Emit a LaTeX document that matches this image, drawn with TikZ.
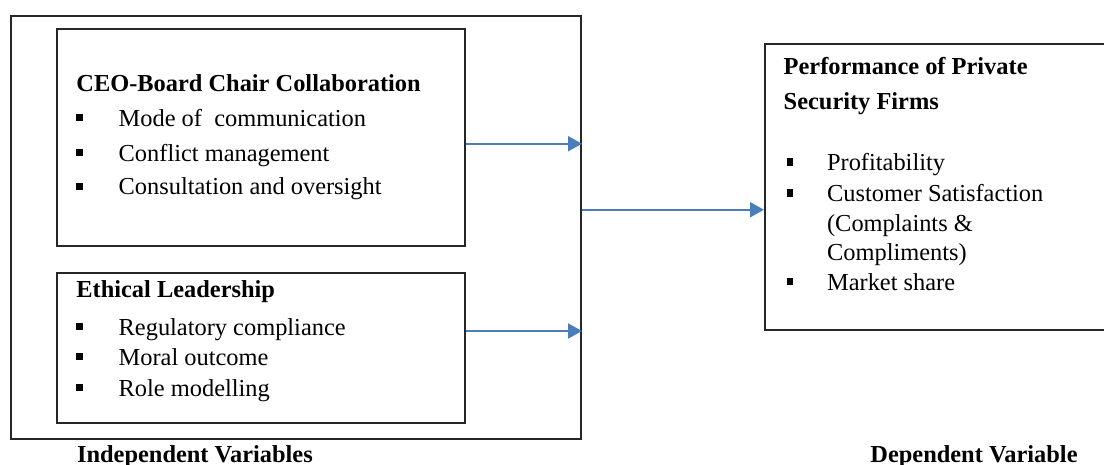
\documentclass[tikz,border=0pt]{standalone}
\usepackage{fontspec}
\setmainfont{LiberationSerif}[Extension=.ttf, UprightFont=*-Regular, BoldFont=*-Bold, ItalicFont=*-Italic, BoldItalicFont=*-BoldItalic]
\usetikzlibrary{arrows.meta}
\definecolor{arrowblue}{HTML}{4A7EBB}
\begin{document}
\begin{tikzpicture}[x=0.5pt,y=-0.5pt,
  frame/.style={draw=black!85, line width=1pt, rectangle, inner sep=0pt, anchor=north west},
  head/.style={anchor=base west, inner sep=0pt, font=\fontsize{12.2}{14}\selectfont\bfseries},
  item/.style={anchor=base west, inner sep=0pt, font=\fontsize{12.2}{14}\selectfont},
  bullet/.style={fill=black, draw=none, inner sep=0pt, minimum width=3.2pt, minimum height=3.6pt},
  link/.style={draw=arrowblue, line width=1pt, -{Triangle[length=7pt,width=7.5pt]}}
]
\useasboundingbox (0,0) rectangle (1104,465);

% frames
\node[frame, minimum width=285pt, minimum height=211.35pt] (iv) at (10,15) {};
\node[frame, minimum width=203.9pt, minimum height=108.65pt] (collab) at (55.7,27.7) {};
\node[frame, minimum width=203.9pt, minimum height=75.3pt] (ethics) at (55.7,271.7) {};
\node[frame, minimum width=173pt, minimum height=142.85pt] (dv) at (764,43.3) {};

% CEO-Board Chair Collaboration
\node[head] (collabT) at (76,91.7) {CEO-Board Chair Collaboration};
\node[bullet] (c1b) at (79.3,117.8) {};
\node[item] (c1) at (118.3,126.5) {Mode of\ \ communication};
\node[bullet] (c2b) at (79.3,152.8) {};
\node[item] (c2) at (118.3,161.5) {Conflict management};
\node[bullet] (c3b) at (79.3,186.3) {};
\node[item] (c3) at (118.3,195) {Consultation and oversight};

% Ethical Leadership
\node[head] (ethicsT) at (76,297) {Ethical Leadership};
\node[bullet] (e1b) at (79.3,326.3) {};
\node[item] (e1) at (118.3,335) {Regulatory compliance};
\node[bullet] (e2b) at (79.3,356.3) {};
\node[item] (e2) at (118.3,365) {Moral outcome};
\node[bullet] (e3b) at (79.3,387.8) {};
\node[item] (e3) at (118.3,396.5) {Role modelling};

% Performance of Private Security Firms
\node[head] (dvT1) at (783.3,75) {Performance of Private};
\node[head] (dvT2) at (783.3,109.3) {Security Firms};
\node[bullet] (p1b) at (789.7,162) {};
\node[item] (p1) at (826.7,170.7) {Profitability};
\node[bullet] (p2b) at (789.7,193) {};
\node[item] (p2) at (826.7,201.7) {Customer Satisfaction};
\node[item] (p2a) at (826.7,231.7) {(Complaints \&};
\node[item] (p2c) at (826.7,260.5) {Compliments)};
\node[bullet] (p3b) at (789.7,281.3) {};
\node[item] (p3) at (826.7,290) {Market share};

% captions
\node[head] (ivL) at (76.7,462) {Independent Variables};
\node[head] (dvL) at (870,462.5) {Dependent Variable};

% connectors
\coordinate (a1) at ([yshift=-3.2pt]collab.east);
\draw[link] (a1) -- (a1 -| iv.east);
\coordinate (a2) at ([yshift=8.5pt]ethics.east);
\draw[link] (a2) -- (a2 -| iv.east);
\coordinate (a3) at ([yshift=8.8pt]iv.east);
\draw[link] (a3) -- (a3 -| dv.west);
\end{tikzpicture}
\end{document}
